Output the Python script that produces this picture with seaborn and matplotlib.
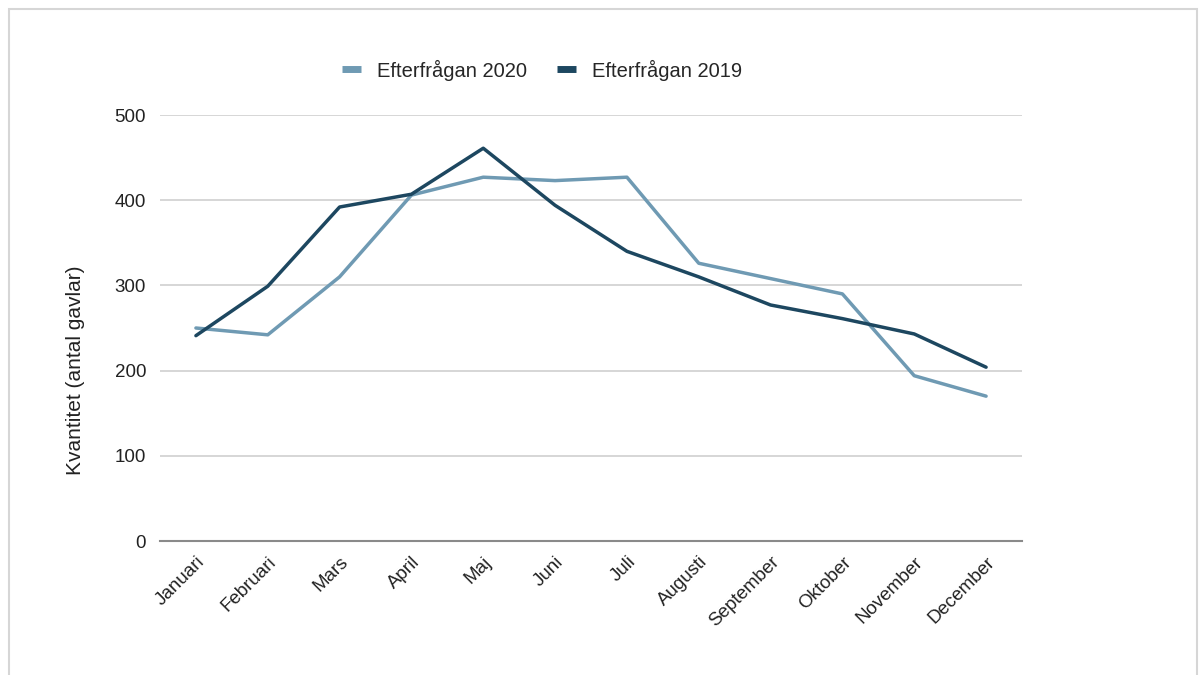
import matplotlib
matplotlib.use("Agg")
import matplotlib.pyplot as plt
from matplotlib.patches import Rectangle
import seaborn as sns
import pandas as pd

months = ["Januari", "Februari", "Mars", "April", "Maj", "Juni", "Juli",
          "Augusti", "September", "Oktober", "November", "December"]
demand_2020 = [250, 242, 310, 406, 427, 423, 427, 326, 308, 290, 194, 170]
demand_2019 = [241, 299, 392, 407, 461, 394, 340, 310, 277, 261, 243, 204]
series_names = ["Efterfrågan 2020", "Efterfrågan 2019"]
y_ticks = [0, 100, 200, 300, 400, 500]

colors = {"Efterfrågan 2020": "#6f9ab3", "Efterfrågan 2019": "#1d4760"}

df = pd.DataFrame({
    "Månad": months * 2,
    "Kvantitet": demand_2020 + demand_2019,
    "Serie": [series_names[0]] * len(months) + [series_names[1]] * len(months),
})

sns.set_theme(style="white")
plt.rcParams["font.family"] = ["Liberation Sans", "DejaVu Sans"]

fig = plt.figure(figsize=(12, 6.75), dpi=100)

# page frame
frame = Rectangle((9 / 1200, -0.05), 1188 / 1200, 1 - 9 / 675 + 0.05,
                  transform=fig.transFigure, fill=False,
                  edgecolor="#d6d6d6", linewidth=1.5, zorder=0)
fig.patches.append(frame)

ax = fig.add_axes([160 / 1200, 1 - 541 / 675, (1022 - 160) / 1200, (541 - 115) / 675])

sns.lineplot(data=df, x="Månad", y="Kvantitet", hue="Serie", palette=colors,
             hue_order=series_names, linewidth=2.5, ax=ax, legend=False, sort=False)

ax.set_ylim(0, 500)
ax.set_xlim(-0.5, len(months) - 0.5)
ax.set_yticks(y_ticks)
ax.set_yticklabels([str(t) for t in y_ticks], fontsize=13.5, color="#222222")
ax.set_xticks(range(len(months)))
ax.set_xticklabels(months, rotation=45, ha="right", rotation_mode="anchor",
                   fontsize=13.5, color="#222222")
ax.tick_params(axis="y", length=0, pad=10)
ax.tick_params(axis="x", length=0, pad=9)
ax.set_xlabel("")
ax.set_ylabel("Kvantitet (antal gavlar)", fontsize=15, color="#222222")
ax.yaxis.set_label_coords((85 - 160) / 862, (541 - 370) / 426)

ax.grid(axis="y", color="#d0d0d0", linewidth=1.2)
ax.set_axisbelow(True)
for side in ["top", "right", "left"]:
    ax.spines[side].set_visible(False)
ax.spines["bottom"].set_color("#8a8a8a")
ax.spines["bottom"].set_linewidth(1.5)

handles = [plt.Line2D([], [], color=colors[n], linewidth=5, solid_capstyle="butt")
           for n in series_names]
fig.legend(handles, series_names, loc="center", bbox_to_anchor=(542 / 1200, 1 - 70 / 675),
           ncol=2, frameon=False, fontsize=14.5, handlelength=0.95, columnspacing=1.45,
           handletextpad=0.8)

fig.savefig("out.png", dpi=100, facecolor="white")
